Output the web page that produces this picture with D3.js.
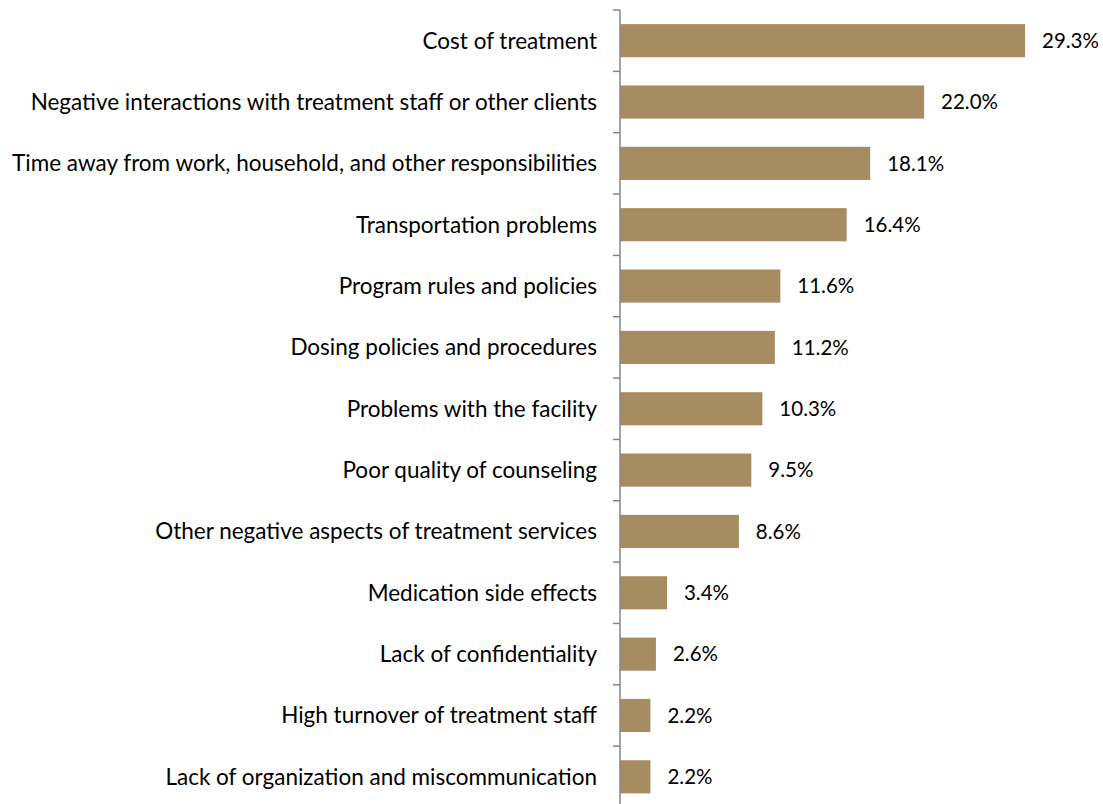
<!DOCTYPE html>
<html>
<head>
<meta charset="utf-8">
<script src="https://cdn.jsdelivr.net/npm/d3@7"></script>
<style>
  html, body { margin: 0; padding: 0; background: #fff; }
  svg { display: block; }
</style>
</head>
<body>
<svg id="chart" width="1103" height="804"></svg>
<script>
// Reasons for leaving treatment, share of respondents (%)
const categories = [
  "Cost of treatment",
  "Negative interactions with treatment staff or other clients",
  "Time away from work, household, and other responsibilities",
  "Transportation problems",
  "Program rules and policies",
  "Dosing policies and procedures",
  "Problems with the facility",
  "Poor quality of counseling",
  "Other negative aspects of treatment services",
  "Medication side effects",
  "Lack of confidentiality",
  "High turnover of treatment staff",
  "Lack of organization and miscommunication"
];
const values = [29.3, 22.0, 18.1, 16.4, 11.6, 11.2, 10.3, 9.5, 8.6, 3.4, 2.6, 2.2, 2.2];

const svg = d3.select("#chart");
const font = "Lato, 'Open Sans', sans-serif";

const axisX = 620, plotTop = 10, plotBottom = 807.5;

const y = d3.scaleBand()
  .domain(categories)
  .range([plotTop, plotBottom])
  .paddingInner(0.46)
  .paddingOuter(0.23);

const x = d3.scaleLinear()
  .domain([0, 29.3])
  .range([axisX, 1025]);

// Bars
svg.append("g")
  .selectAll("rect")
  .data(values)
  .join("rect")
  .attr("x", x(0))
  .attr("y", (d, i) => y(categories[i]))
  .attr("width", d => x(d) - x(0))
  .attr("height", y.bandwidth())
  .attr("fill", "#A78B61");

// Value labels
svg.append("g")
  .selectAll("text")
  .data(values)
  .join("text")
  .attr("x", d => x(d) + 17)
  .attr("y", (d, i) => y(categories[i]) + y.bandwidth() / 2)
  .attr("dy", "0.35em")
  .attr("font-family", font)
  .attr("font-size", 20.5)
  .attr("fill", "#000")
  .text(d => d.toFixed(1) + "%");

// Category axis with ticks at band boundaries
const step = (plotBottom - plotTop) / categories.length;
const ax = svg.append("g").attr("stroke", "#868686").attr("stroke-width", 1.5);
ax.append("line")
  .attr("x1", axisX).attr("x2", axisX)
  .attr("y1", plotTop).attr("y2", plotBottom);
ax.selectAll("line.tick")
  .data(d3.range(categories.length + 1))
  .join("line")
  .attr("class", "tick")
  .attr("x1", axisX - 7).attr("x2", axisX)
  .attr("y1", i => plotTop + i * step)
  .attr("y2", i => plotTop + i * step);

// Category labels
svg.append("g")
  .selectAll("text")
  .data(categories)
  .join("text")
  .attr("x", 597)
  .attr("y", d => y(d) + y.bandwidth() / 2)
  .attr("dy", "0.35em")
  .attr("text-anchor", "end")
  .attr("font-family", font)
  .attr("font-size", 22.5)
  .attr("fill", "#000")
  .text(d => d);
</script>
</body>
</html>
